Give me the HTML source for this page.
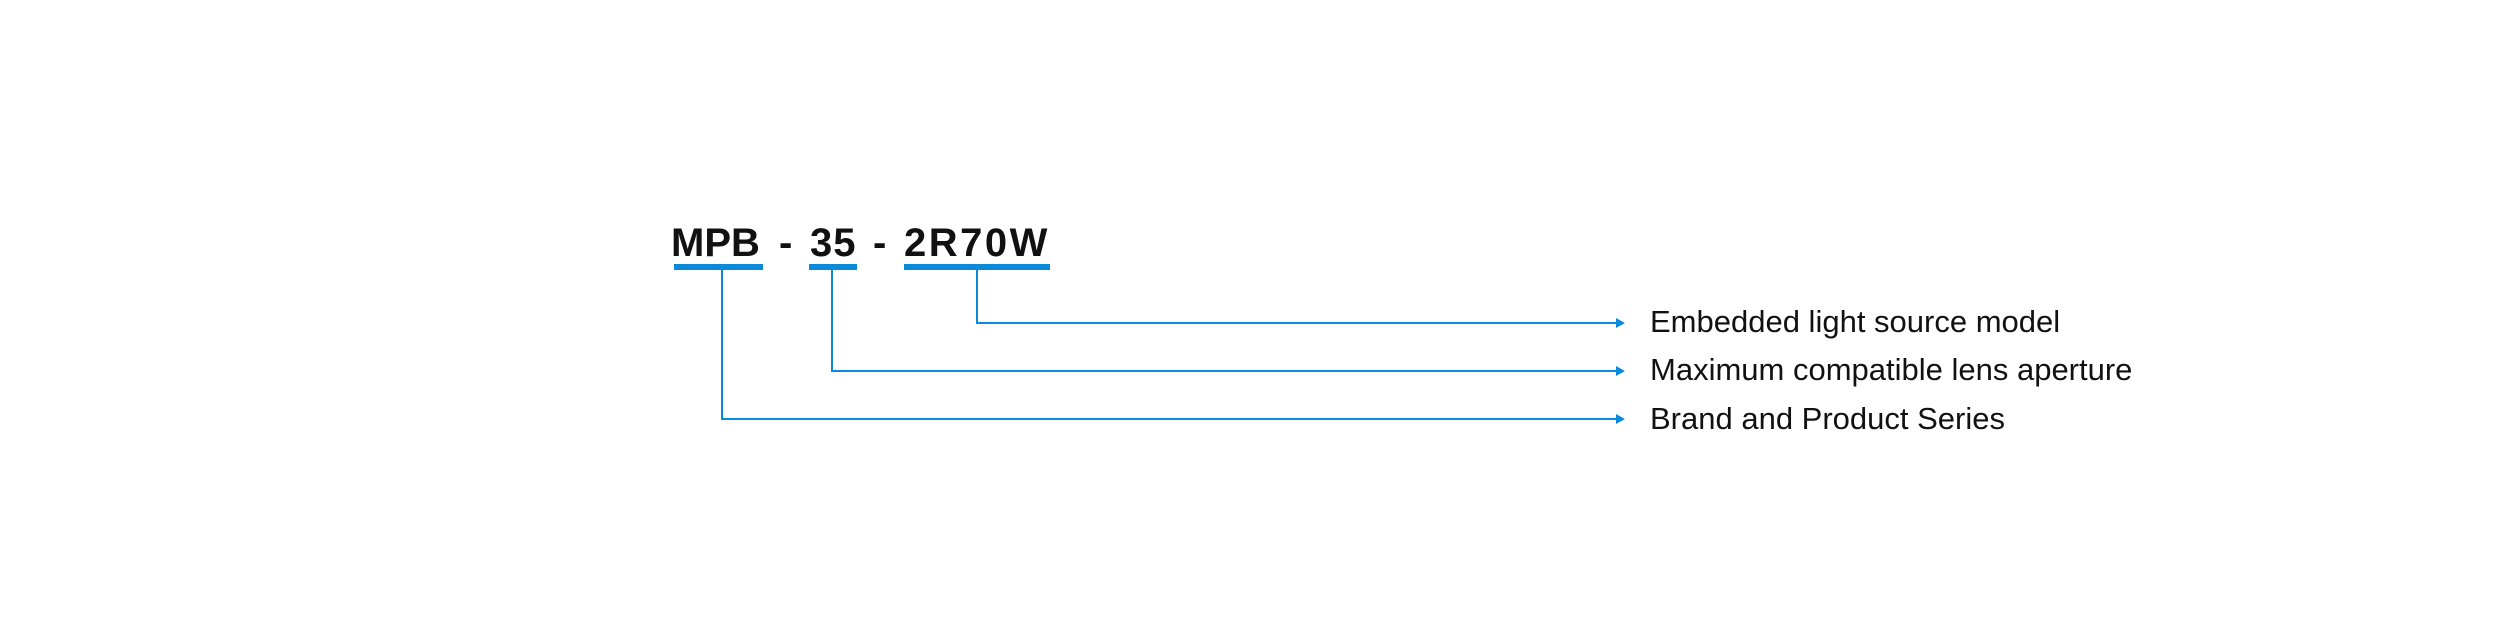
<!DOCTYPE html>
<html><head><meta charset="utf-8"><style>
html,body{margin:0;padding:0;background:#fff;}
body{width:2501px;height:626px;position:relative;overflow:hidden;font-family:"Liberation Sans","Noto Sans CJK SC",sans-serif;}
.t{position:absolute;font-weight:bold;font-size:40px;color:#111;line-height:1;top:223px;}
.l{position:absolute;font-size:31px;color:#111;line-height:1;}
</style></head><body>
<div class="t" style="left:671px;">MPB</div>
<div class="t" style="left:779px;">-</div>
<div class="t" style="left:810px;letter-spacing:1px;">35</div>
<div class="t" style="left:873px;">-</div>
<div class="t" style="left:904px;letter-spacing:2.5px;">2R70W</div>
<svg width="2501" height="626" style="position:absolute;left:0;top:0">
<g fill="#0a8ad8">
<rect x="674" y="264" width="89" height="6"/>
<rect x="809" y="264" width="48" height="6"/>
<rect x="904" y="264" width="146" height="6"/>
</g>
<g stroke="#0a8ad8" stroke-width="2" fill="none">
<polyline points="977,270 977,323 1618,323"/>
<polyline points="832,270 832,371 1618,371"/>
<polyline points="722,270 722,419 1618,419"/>
</g>
<g fill="#0a8ad8">
<polygon points="1616,318 1625,323 1616,328"/>
<polygon points="1616,366 1625,371 1616,376"/>
<polygon points="1616,414 1625,419 1616,424"/>
</g>
</svg>
<div class="l" style="left:1650px;top:306px;">Embedded light source model</div>
<div class="l" style="left:1650px;top:354px;">Maximum compatible lens aperture</div>
<div class="l" style="left:1650px;top:403px;">Brand and Product Series</div>
</body></html>
